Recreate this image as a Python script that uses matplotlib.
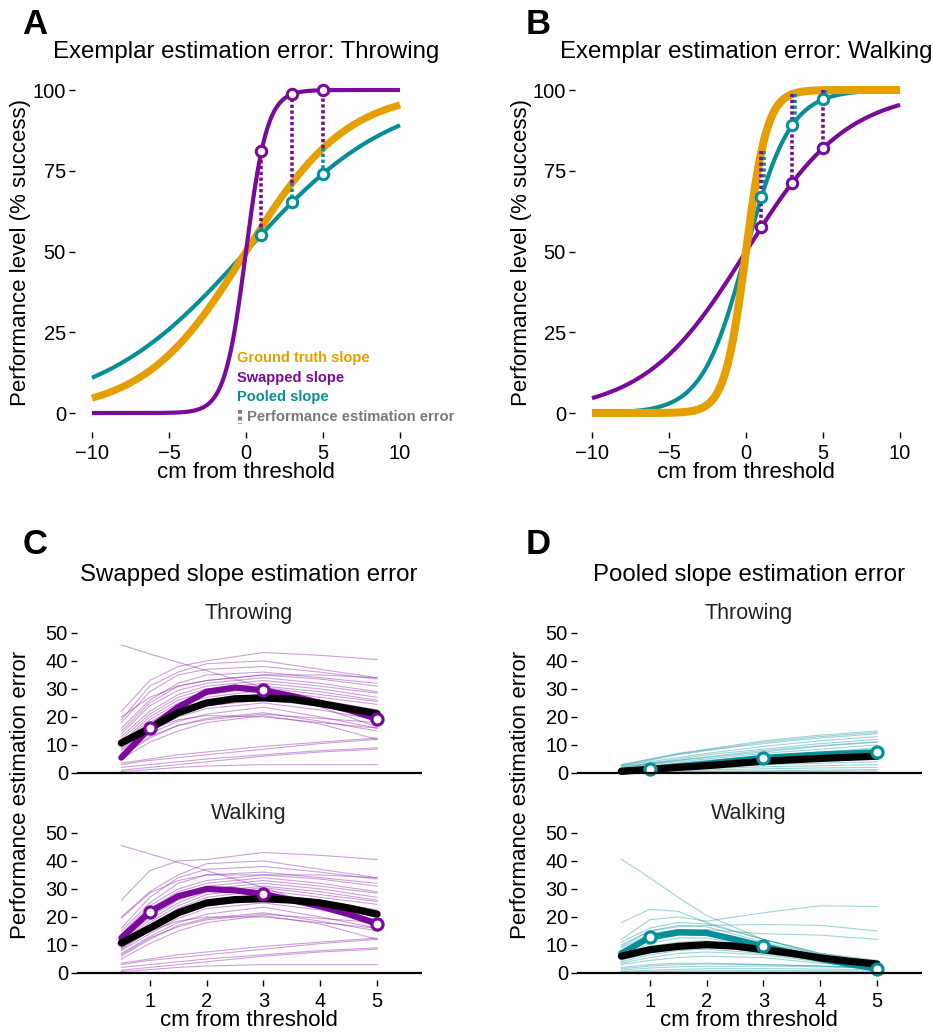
import numpy as np
import matplotlib
matplotlib.use("Agg")
import matplotlib.pyplot as plt

plt.rcParams['font.family'] = ['Liberation Sans', 'DejaVu Sans']

PURPLE = '#7A0A9B'
TEAL = '#068F99'
ORANGE = '#E69F00'
GRAY = '#7A7A7A'

# ---- top panels: logistic slopes (threshold at 0) ----
slope_throw_truth = 0.303
slope_walk_truth = 1.45
slope_throw_pooled = 0.21
slope_walk_pooled = 0.70
probe_cm = [1, 3, 5]

# ---- bottom panels: per-subject error curves ----
err_x = [0.5, 1, 1.5, 2, 3, 4, 5]
mean_x = [0.5, 1, 1.5, 2, 2.5, 3, 3.5, 4, 4.5, 5]

swap_throw_subj = [
    [45.7, 42.5, 39.5, 36.5, 30.5, 23.5, 16.5],
    [22, 33, 38, 40, 43, 42, 40.5],
    [19, 31, 36, 39, 40, 37, 34],
    [18, 29, 35, 37, 38, 36, 33.5],
    [16, 26, 32, 35, 36, 34, 32],
    [15, 25, 31, 33, 35, 33.5, 31],
    [14, 24, 29.5, 32, 34, 32, 29],
    [13, 22, 28, 31, 33, 31, 28.5],
    [12, 21, 27, 30, 32, 30, 27],
    [11, 20, 26, 29, 31, 29, 26],
    [10.5, 19, 25, 28, 30.5, 28, 25.5],
    [10, 18, 24, 27, 29.5, 27, 24.5],
    [9, 17, 22.5, 26, 28, 26, 22.5],
    [8.5, 16, 21, 24, 26, 24, 21],
    [8, 15, 20, 23, 25, 22.5, 19],
    [7, 14, 18.5, 21, 23.5, 20, 16],
    [6, 12.5, 17, 19.5, 21.5, 18.5, 15],
    [5, 11, 15, 18, 20.5, 17.5, 12],
    [6.5, 13, 17, 19, 21, 19.5, 18],
    [9.5, 15.5, 19, 20.5, 20, 18, 16],
    [20, 27, 31, 33, 35, 35, 34],
    [3.5, 5, 6.5, 7.5, 9.5, 11, 12.5],
    [3, 4.5, 5.5, 6.5, 8.5, 10.5, 12],
    [2, 3, 4, 5, 6.5, 8, 9],
    [1, 2, 3, 4, 6, 7.5, 8.5],
    [0.5, 1.2, 2, 2.5, 3, 3, 3],
]
swap_walk_subj = [
    [45.5, 42.5, 39.5, 36.5, 30.5, 23.5, 16.5],
    [26, 36.5, 40, 40.5, 43, 42, 40.5],
    [20, 29, 35, 39, 40, 37, 34],
    [16, 27, 34, 37, 38, 36, 33.5],
    [15, 25, 32, 35, 36, 34, 32],
    [14, 24, 30, 33, 35, 33.5, 31],
    [13, 23, 29, 32, 34, 32, 29],
    [12, 21, 27, 31, 33, 31, 28.5],
    [11, 20, 26, 30, 32, 30, 27],
    [10.5, 19, 25, 29, 31, 29, 26],
    [10, 18, 24, 28, 30.5, 28, 25.5],
    [9.5, 17, 23, 27, 29.5, 27, 24.5],
    [9, 16, 22, 26, 28, 26, 22.5],
    [8.5, 15, 20.5, 24, 26, 24, 21],
    [8, 14, 19.5, 23, 25, 22.5, 19],
    [7, 13, 18, 21, 23.5, 20, 16],
    [6, 12, 17, 19.5, 21.5, 18.5, 15],
    [5, 10.5, 15, 18, 20.5, 17.5, 12],
    [6.5, 12.5, 16.5, 19, 21, 19.5, 18],
    [9, 15, 18.5, 20, 20, 18, 16],
    [19.5, 28.5, 33, 35, 35, 35, 34],
    [3.5, 5, 6.5, 7.5, 9.5, 11, 12.5],
    [3, 4.5, 5.5, 6.5, 8.5, 10.5, 12],
    [2, 3, 4, 5, 6.5, 8, 9],
    [1, 2, 3, 4, 6, 7.5, 8.5],
    [0.5, 1.2, 2, 2.5, 3, 3, 3],
]
pool_throw_subj = [
    [3, 5, 7, 8.5, 11.5, 13.5, 15],
    [2.8, 4.8, 6.8, 8.2, 11, 13, 14.5],
    [2.5, 4.5, 6.5, 8, 10.5, 12.5, 14],
    [2.5, 4, 5.5, 7, 9.5, 11.5, 13],
    [2, 3.5, 5, 6.5, 8.5, 10.5, 12],
    [1.8, 3.2, 4.5, 5.8, 8, 9.8, 11.2],
    [2, 3.5, 4.5, 5.5, 7.5, 9.5, 11],
    [1.5, 3, 4, 5, 7, 8.5, 10],
    [1.5, 2.5, 3.5, 4.5, 6, 7.5, 9],
    [1.2, 2, 3, 3.8, 5.5, 7, 8],
    [1, 2, 2.8, 3.5, 5, 6.5, 7.5],
    [1, 1.8, 2.5, 3, 4.5, 5.5, 6.5],
    [0.8, 1.5, 2, 2.5, 3.5, 4.5, 5.2],
    [0.6, 1.2, 1.6, 2, 3, 3.5, 4],
    [0.5, 0.9, 1.2, 1.6, 2.2, 2.6, 3],
    [0.3, 0.6, 0.9, 1.1, 1.5, 1.8, 2],
    [0.2, 0.4, 0.5, 0.6, 0.8, 1, 1.2],
    [0.1, 0.2, 0.3, 0.4, 0.5, 0.6, 0.7],
]
pool_walk_subj = [
    [40.6, 34, 27, 20.5, 12, 6.5, 3.5],
    [18, 22.7, 22, 18, 12, 7, 4],
    [12, 19, 20, 18.5, 21.5, 24, 23.7],
    [10, 15, 16.5, 17, 17.3, 17, 15],
    [9, 14, 15.5, 15.5, 14, 13.5, 12],
    [11, 16, 18, 17.5, 12, 7, 4.5],
    [9.5, 15, 17, 16.5, 11, 6.5, 4],
    [8, 13.5, 15.5, 15, 10.5, 6, 3.5],
    [7.5, 12.5, 14.5, 14, 10, 6, 3.5],
    [7, 11.5, 13.5, 13.5, 9.5, 5.5, 3.2],
    [6, 10.5, 12.5, 12.5, 9, 5.5, 3],
    [5.5, 9.5, 11, 11.5, 8.5, 5, 3],
    [5, 8.5, 10, 10.5, 8, 5, 3],
    [4.5, 7.5, 9, 9.5, 7.5, 4.5, 2.8],
    [4, 6.5, 8, 8.5, 7, 4.5, 2.5],
    [3.5, 5.5, 7, 7.5, 6.5, 4, 2.5],
    [3, 4.5, 5.5, 6, 5.5, 3.5, 2],
    [2, 3, 3.5, 3.5, 3, 2.5, 1.5],
    [1.5, 2.5, 3, 3.2, 3, 2.5, 2],
    [1, 1.8, 2.2, 2.4, 2.5, 2.2, 1.8],
    [0.5, 1, 1.3, 1.5, 1.6, 1.4, 1.2],
    [0.3, 0.5, 0.7, 0.8, 0.9, 0.8, 0.7],
    [0.1, 0.2, 0.3, 0.3, 0.3, 0.3, 0.3],
]

# group-level curves (thick colored) and black average curve, at mean_x
swap_throw_group = [5.5, 16, 23.5, 29, 30.5, 29.5, 27.5, 25, 22.5, 19.3]
swap_throw_black = [10.7, 16, 21.5, 25, 26.5, 26.8, 26.3, 24.8, 23, 21.2]
swap_walk_group = [12.5, 21.8, 27.4, 30, 29.5, 28.2, 26, 23.8, 21, 17.6]
swap_walk_black = [10.7, 16, 21.5, 25, 26.2, 26.5, 26, 25, 23.2, 21]
pool_throw_group = [0.6, 1.4, 2.4, 3.3, 4.4, 5.4, 6.0, 6.6, 7.0, 7.4]
pool_throw_black = [0.6, 1.3, 2.0, 2.6, 3.4, 4.2, 4.7, 5.2, 5.6, 6.0]
pool_walk_group = [7, 12.7, 14.5, 14.3, 12, 9.5, 7.2, 5, 3.2, 1.5]
pool_walk_black = [6, 8.3, 9.5, 10.1, 9.6, 8.3, 7.0, 5.4, 4.2, 3.2]

W, H = 933, 1033
fig = plt.figure(figsize=(W / 100, H / 100), dpi=100)


def px_axes(l, t, r, b):
    return fig.add_axes([l / W, 1 - b / H, (r - l) / W, (b - t) / H])


def ftext(x, y, s, **kw):
    fig.text(x / W, 1 - y / H, s, **kw)


def logistic(x, k):
    return 100.0 / (1.0 + np.exp(-k * np.asarray(x, dtype=float)))


def clean(ax, xticks=True):
    for sp in ax.spines.values():
        sp.set_visible(False)
    ax.tick_params(direction='out', length=4.5, width=1.0, labelsize=14.5,
                   colors='black', pad=2)
    ax.tick_params(axis='x', pad=4)
    if not xticks:
        ax.tick_params(axis='x', length=0, labelbottom=False)


# ---------------- top panels ----------------
xs = np.linspace(-10, 10, 600)
top_specs = [
    # (left px, truth slope, swapped slope, pooled slope, title)
    (75, slope_throw_truth, slope_walk_truth, slope_throw_pooled, 'Exemplar estimation error: Throwing'),
    (575, slope_walk_truth, slope_throw_truth, slope_walk_pooled, 'Exemplar estimation error: Walking'),
]
for i, (left, k_true, k_swap, k_pool, title) in enumerate(top_specs):
    ax = px_axes(left, 80, left + 342, 432)
    ax.set_xlim(-11.1, 11.1)
    ax.set_ylim(-5.88, 103.1)
    lw_or = 5.2 if i == 0 else 5.8
    ax.plot(xs, logistic(xs, k_pool), color=TEAL, lw=3.0, solid_capstyle='butt', zorder=2)
    if i == 0:
        ax.plot(xs, logistic(xs, k_true), color=ORANGE, lw=lw_or, solid_capstyle='butt', zorder=3)
        ax.plot(xs, logistic(xs, k_swap), color=PURPLE, lw=3.0, solid_capstyle='butt', zorder=4)
    else:
        ax.plot(xs, logistic(xs, k_swap), color=PURPLE, lw=3.0, solid_capstyle='butt', zorder=3)
        ax.plot(xs, logistic(xs, k_true), color=ORANGE, lw=lw_or, solid_capstyle='butt', zorder=4)
    off = 0.0 if i == 0 else 0.15
    for p in probe_cm:
        yt = logistic(p, k_true)
        ax.plot([p + off, p + off], [yt, logistic(p, k_pool)], color=TEAL, lw=2.6,
                ls=(0, (0.9, 0.7)), zorder=5)
        ax.plot([p, p], [yt, logistic(p, k_swap)], color=PURPLE, lw=2.6,
                ls=(0, (0.9, 0.7)), zorder=6)
    ax.plot(probe_cm, logistic(probe_cm, k_pool), 'o', ms=7.5, mfc='white', mec=TEAL, mew=2.2, zorder=7)
    ax.plot(probe_cm, logistic(probe_cm, k_swap), 'o', ms=7.5, mfc='white', mec=PURPLE, mew=2.2, zorder=7)
    ax.set_xticks([-10, -5, 0, 5, 10])
    ax.set_yticks([0, 25, 50, 75, 100])
    clean(ax)
    ftext(left + 171, 52, title, ha='center', va='center', fontsize=17.3)
    ftext(left + 171, 472, 'cm from threshold', ha='center', va='center', fontsize=16)
    ftext(left - 54, 252, 'Performance level (% success)', ha='center', va='center',
          rotation=90, fontsize=16)

# legend in panel A
ftext(237, 358, 'Ground truth slope', color=ORANGE, fontsize=10.5, fontweight='bold', va='center')
ftext(237, 378, 'Swapped slope', color=PURPLE, fontsize=10.5, fontweight='bold', va='center')
ftext(237, 397, 'Pooled slope', color=TEAL, fontsize=10.5, fontweight='bold', va='center')
ftext(247, 417, 'Performance estimation error', color=GRAY, fontsize=10.7, fontweight='bold', va='center')
fig.add_artist(plt.Line2D([240 / W, 240 / W], [1 - 410 / H, 1 - 424 / H], color=GRAY, lw=3,
                          ls=(0, (0.9, 0.7))))

# ---------------- bottom panels ----------------
bottom_specs = [
    (77, PURPLE, 'Swapped slope estimation error',
     [(swap_throw_subj, swap_throw_group, swap_throw_black, 'Throwing'),
      (swap_walk_subj, swap_walk_group, swap_walk_black, 'Walking')]),
    (577, TEAL, 'Pooled slope estimation error',
     [(pool_throw_subj, pool_throw_group, pool_throw_black, 'Throwing'),
      (pool_walk_subj, pool_walk_group, pool_walk_black, 'Walking')]),
]
for left, col, title, rows in bottom_specs:
    cx = left + 172
    ftext(cx, 575, title, ha='center', va='center', fontsize=17.3)
    for j, (subj, grp, blk, name) in enumerate(rows):
        top = 627 + j * 200
        ax = px_axes(left, top, left + 345, top + 153)
        ax.set_xlim(-0.28, 5.79)
        ax.set_ylim(-2.5, 52.1)
        for s in subj:
            ax.plot(err_x, s, color=col, lw=0.8, alpha=0.38, zorder=1)
        ax.plot(mean_x, grp, color=col, lw=4.5, solid_capstyle='round', zorder=3)
        ax.plot(mean_x, blk, color='black', lw=5.2, solid_capstyle='round', zorder=4)
        ax.plot([mean_x[1], mean_x[5], mean_x[9]], [grp[1], grp[5], grp[9]], 'o', ms=8,
                mfc='white', mec=col, mew=2.3, zorder=5)
        ax.axhline(0, color='black', lw=1.6, zorder=6)
        ax.set_yticks([0, 10, 20, 30, 40, 50])
        ax.set_xticks([1, 2, 3, 4, 5])
        clean(ax, xticks=(j == 1))
        ax.tick_params(axis='x', pad=4)
        ftext(cx, top - 13, name, ha='center', va='center', fontsize=15.5, color='#222222')
    ftext(cx, 1020, 'cm from threshold', ha='center', va='center', fontsize=16)
    ftext(left - 56, 795, 'Performance estimation error', ha='center', va='center',
          rotation=90, fontsize=16)

for letter, x, y in [('A', 35, 24), ('B', 538, 24), ('C', 35, 545), ('D', 538, 545)]:
    ftext(x, y, letter, ha='center', va='center', fontsize=25, fontweight='bold')

fig.savefig('out.png', dpi=100)
